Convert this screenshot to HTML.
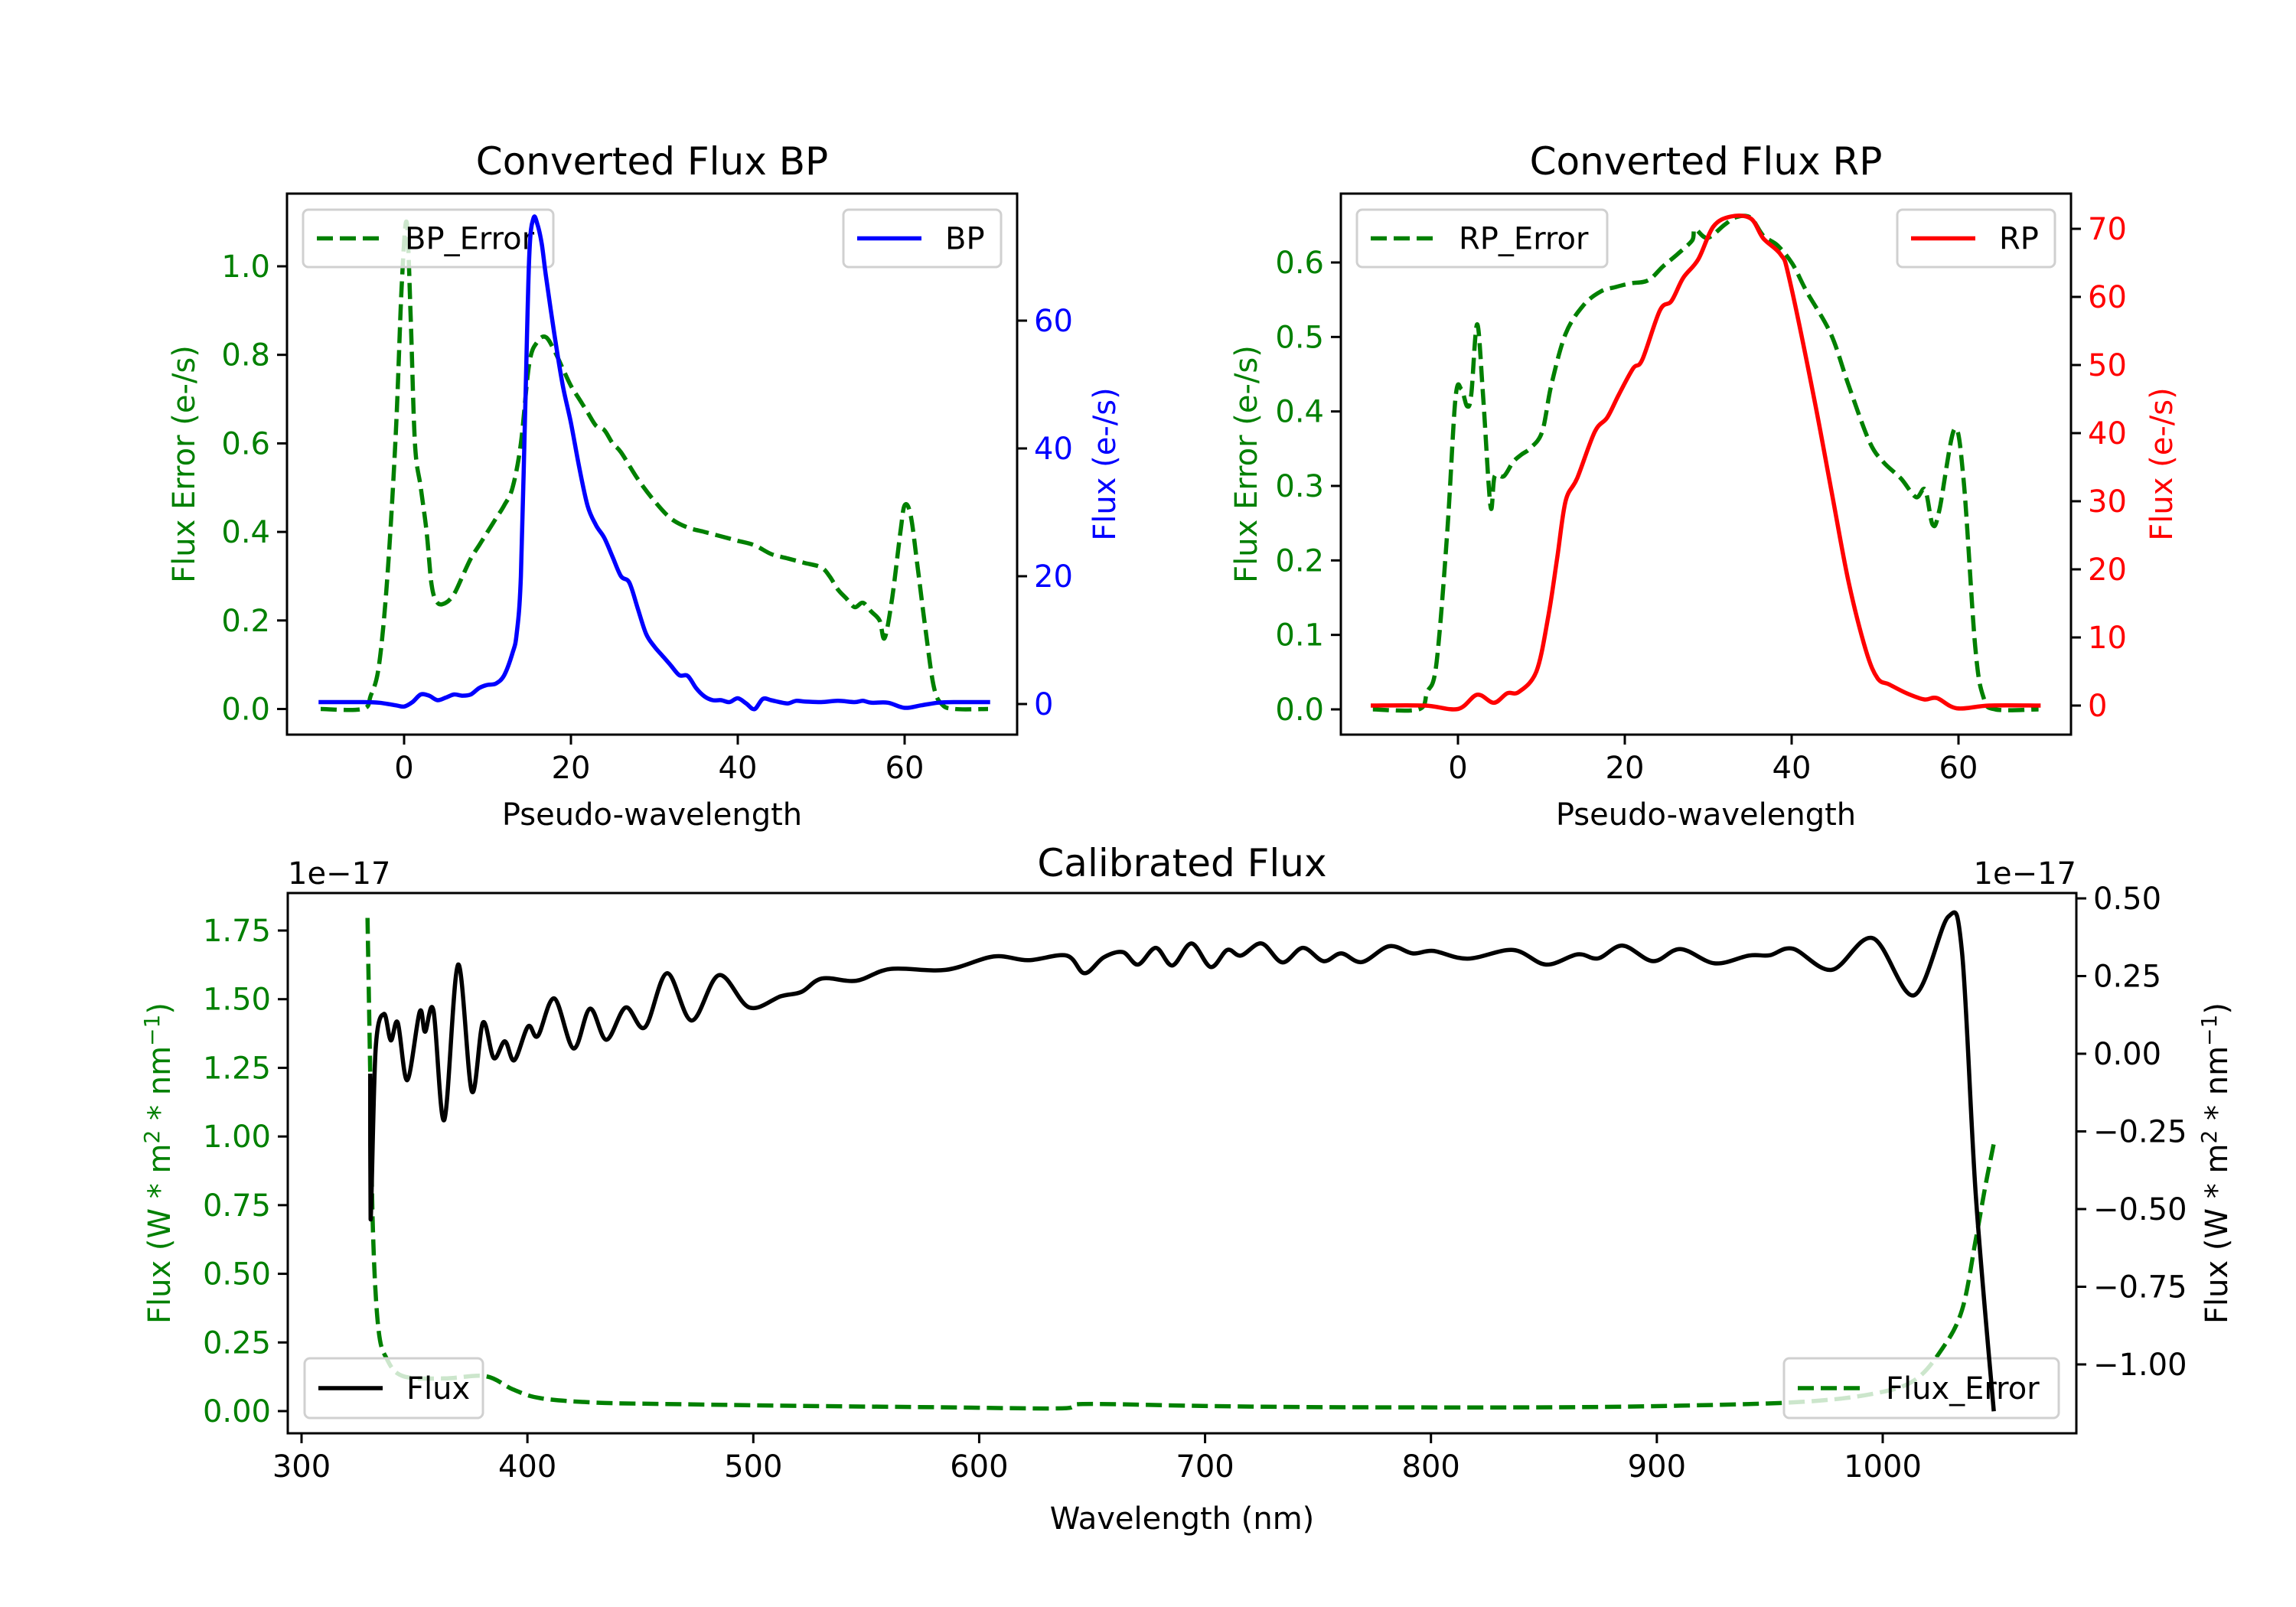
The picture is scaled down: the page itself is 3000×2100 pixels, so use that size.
<!DOCTYPE html>
<html><head><meta charset="utf-8">
<style>
html,body{margin:0;padding:0;background:#fff;}
svg{display:block;font-family:"DejaVu Sans","Liberation Sans",sans-serif;}
</style></head>
<body>
<svg id="fig" width="3000" height="2100" viewBox="0 0 3000 2100" xmlns="http://www.w3.org/2000/svg">
<rect width="3000" height="2100" fill="#fff"/>
</svg>
<script>
// ---- BP panel data ----
const bpX = [-10,-5,-3,-1,0,1,2,3,4,5,6,7,8,9,10,11,12,13,13.5,14,14.5,15,15.5,16,16.5,17,18,19,20,21,22,23,24,25,26,27,28,29,30,31,32,33,34,35,36,37,38,39,40,41,42,43,44,45,46,47,48,50,52,54,55,56,58,60,62,64,66,70];
const bpFlux = [0.3,0.3,0.2,-0.2,-0.4,0.3,1.5,1.3,0.6,1.0,1.5,1.3,1.5,2.5,3.0,3.2,4.5,8,11,20,45,70,76,75,72,67,58,50,44,37,31,28,26,23,20,19,15,11,9,7.5,6,4.5,4.4,2.5,1.2,0.6,0.6,0.3,0.9,0.1,-0.8,0.8,0.6,0.3,0.1,0.5,0.4,0.3,0.5,0.3,0.5,0.2,0.2,-0.6,-0.2,0.2,0.3,0.3];
const bpErrX = [-10,-5,-4,-3,-2,-1,-0.3,0.3,0.8,1.3,2,2.7,3.3,4,5,6,7,8,9,10,11,12,13,14,15,16,17,18,19,20,21,22,23,24,25,26,28,30,32,34,36,38,40,42,44,46,48,50,51,52,53,54,55,56,57,57.6,58.5,59.5,60,60.7,61.5,62.5,63.5,64.5,66,70];
const bpErr = [0,0,0.03,0.1,0.3,0.62,0.95,1.1,0.88,0.6,0.5,0.4,0.28,0.24,0.24,0.26,0.3,0.34,0.37,0.4,0.43,0.46,0.5,0.6,0.78,0.83,0.84,0.81,0.77,0.73,0.7,0.67,0.64,0.63,0.6,0.58,0.52,0.47,0.43,0.41,0.4,0.39,0.38,0.37,0.35,0.34,0.33,0.32,0.3,0.27,0.25,0.23,0.24,0.22,0.2,0.16,0.25,0.4,0.46,0.44,0.33,0.18,0.05,0.01,0,0];
// ---- RP panel data ----
const rpX = [-10.2,-4,0,2.3,4.3,5.9,7.3,9.4,10.8,11.9,12.9,14.3,16.4,17.9,19.3,21,22.1,24.2,25.6,27,28.8,30.6,32.7,35.1,36.6,38.7,39.7,42.6,44.7,46.8,48.9,50.3,51.7,53.8,55.9,57.4,59.8,63.7,69.6];
const rpFlux = [0,0,-0.5,1.6,0.4,1.8,2,5,12.9,21.7,30,33.4,40.2,42.3,45.7,49.5,50.8,58,59.4,62.8,65.5,70.3,71.8,71.5,68.6,66.2,62.8,45.7,32,18.3,8.1,4,3.1,1.8,0.9,1.1,-0.4,0,0];
const rpErrX = [-10.2,-4.7,-3.7,-2.6,-1.3,-0.3,0.4,1.1,1.6,2.3,3.0,3.9,4.4,5.5,6.6,7.6,8.7,10.1,11.2,12.9,15,17.1,18.9,20.7,22.8,24.6,26.3,28.1,28.4,29.9,32,33.4,35.1,36.6,38.3,40.1,41.8,44.7,46.8,49.3,51,53.1,54.9,56,56.9,57.7,59.5,60.6,62,63,64.4,69.6];
const rpErr = [0,0,0.023,0.06,0.235,0.417,0.43,0.407,0.423,0.517,0.423,0.273,0.313,0.313,0.332,0.342,0.351,0.373,0.436,0.504,0.542,0.561,0.567,0.572,0.576,0.595,0.611,0.63,0.645,0.633,0.651,0.661,0.66,0.636,0.623,0.598,0.561,0.504,0.436,0.36,0.332,0.31,0.285,0.295,0.248,0.267,0.376,0.31,0.085,0.016,0,0];
// ---- Calibrated panel data (units 1e-17) ----
const calX = [330.4,330.6,332.8,336.5,339.5,342.6,346.8,352.3,354.7,358.4,363.2,369.3,375.4,380.3,385.1,390,394.2,400.3,404.6,411.9,420.4,427.7,435,443.5,452,461.8,472.7,484.8,498.2,512.2,521.3,530.4,545.6,560.8,585.2,606.4,621.6,638.7,646.6,655.1,663.6,670.3,678.2,685.5,694,702.5,709.8,715.9,725,734.2,743.3,752.4,760.3,769.4,781.5,791.9,801,816.2,836.3,850.9,864.9,874,884.9,898.3,910.4,925.6,940.8,950,960.3,977.4,995.6,1013.8,1029,1035.1,1041.2,1049.1];
const calFlux = [-0.071,-0.533,0.014,0.128,0.043,0.1,-0.085,0.135,0.071,0.139,-0.213,0.287,-0.121,0.1,-0.014,0.04,-0.021,0.088,0.057,0.178,0.017,0.145,0.045,0.149,0.085,0.259,0.107,0.253,0.149,0.185,0.199,0.242,0.235,0.273,0.27,0.313,0.301,0.316,0.259,0.31,0.327,0.287,0.341,0.284,0.355,0.279,0.334,0.316,0.355,0.294,0.341,0.298,0.323,0.295,0.346,0.323,0.331,0.306,0.334,0.287,0.32,0.307,0.348,0.298,0.337,0.291,0.316,0.317,0.338,0.27,0.372,0.188,0.441,0.327,-0.455,-1.144];
const calErrX = [329.2,330.4,331.6,334,337.7,345,363.2,381.5,393.6,405.8,430.1,460.5,521.3,582.1,636.8,645.9,703.7,764.5,855.7,916.5,965.1,995.6,1013.8,1026,1035.1,1041.2,1045.4,1049.1];
const calErr = [1.796,1.236,0.658,0.304,0.191,0.127,0.119,0.127,0.079,0.047,0.031,0.026,0.019,0.014,0.01,0.026,0.018,0.014,0.014,0.021,0.034,0.063,0.111,0.223,0.368,0.625,0.818,0.971];
// ---- tick labels ----
const bpXTicks = [0,20,40,60];
const bpLTicks = [0,0.2,0.4,0.6,0.8,1.0];
const bpRTicks = [0,20,40,60];
const rpLTicks = [0,0.1,0.2,0.3,0.4,0.5,0.6];
const rpRTicks = [0,10,20,30,40,50,60,70];
const calXTicks = [300,400,500,600,700,800,900,1000];
const calLTicks = [0,0.25,0.5,0.75,1.0,1.25,1.5,1.75];
const calRTicks = [0.5,0.25,0,-0.25,-0.5,-0.75,-1.0];

const NS='http://www.w3.org/2000/svg';
const svg=document.getElementById('fig');
function mk(tag,attrs,parent){const e=document.createElementNS(NS,tag);for(const k in attrs)e.setAttribute(k,attrs[k]);(parent||svg).appendChild(e);return e;}
function txt(s,x,y,size,fill,anchor,parent,rot){const t=mk('text',{x:x,y:y,'font-size':size,fill:fill,'text-anchor':anchor||'middle'},parent);if(rot)t.setAttribute('transform','rotate('+rot+' '+x+' '+y+')');t.textContent=s;return t;}
const G='#008000';
const FS=40, TFS=50, TL=13, LW=5.5;
function lin(d0,p0,d1,p1){return v=>p0+(v-d0)*(p1-p0)/(d1-d0);}
function fmt(v,dec){let s=v.toFixed(dec);if(v<0)s='\u2212'+(-v).toFixed(dec);return s;}

function series(xs,ys,sx,sy,color,dashed,name,parent){
  const P=xs.map((x,i)=>[sx(x),sy(ys[i])]);
  let d='M'+P[0][0].toFixed(1)+' '+P[0][1].toFixed(1);
  for(let i=0;i<P.length-1;i++){
    const p0=P[Math.max(0,i-1)],p1=P[i],p2=P[i+1],p3=P[Math.min(P.length-1,i+2)];
    let c1x=p1[0]+(p2[0]-p0[0])/6,c1y=p1[1]+(p2[1]-p0[1])/6;
    let c2x=p2[0]-(p3[0]-p1[0])/6,c2y=p2[1]-(p3[1]-p1[1])/6;
    c1x=Math.min(Math.max(c1x,p1[0]),p2[0]);c2x=Math.min(Math.max(c2x,p1[0]),p2[0]);
    d+='C'+c1x.toFixed(1)+' '+c1y.toFixed(1)+' '+c2x.toFixed(1)+' '+c2y.toFixed(1)+' '+p2[0].toFixed(1)+' '+p2[1].toFixed(1);
  }
  const p=mk('path',{d:d,fill:'none',stroke:color,'stroke-width':LW,'stroke-linejoin':'round','stroke-linecap':dashed?'butt':'square'},parent);
  if(dashed)p.setAttribute('stroke-dasharray','21 9');
  
  
  return p;
}
function legend(x0,y0,x1,y1,label,color,dashed,name,parent){
  const g=mk('g',{},parent);
  
  
  mk('rect',{x:x0,y:y0,width:x1-x0,height:y1-y0,rx:7,fill:'rgba(255,255,255,0.8)',stroke:'#d0d0d0','stroke-width':3},g);
  const ym=(y0+y1)/2;
  const l=mk('line',{x1:x0+18,y1:ym,x2:x0+102,y2:ym,stroke:color,'stroke-width':LW},g);
  if(dashed)l.setAttribute('stroke-dasharray','21 9');
  txt(label,x0+133,ym+14,FS,'#000','start',g);
  return g;
}
function frame(L,T,R,B,name){
  const r=mk('rect',{x:L,y:T,width:R-L,height:B-T,fill:'none',stroke:'#000','stroke-width':3});
  
  
}
function xticks(vals,sx,B,labFn,name){
  const g=mk('g',{});
  
  
  vals.forEach(v=>{const x=sx(v);mk('line',{x1:x,y1:B,x2:x,y2:B+TL,stroke:'#000','stroke-width':3},g);txt(labFn(v),x,B+TL+44,FS,'#000','middle',g);});
}
function yticks(vals,sy,X,side,color,labFn,name){
  const g=mk('g',{});
  
  
  vals.forEach(v=>{const y=sy(v);const x2=side<0?X-TL:X+TL;mk('line',{x1:X,y1:y,x2:x2,y2:y,stroke:'#000','stroke-width':3},g);
    txt(labFn(v),side<0?X-TL-9:X+TL+9,y+14,FS,color,side<0?'end':'start',g);});
}

// ===== BP panel =====
(function(){
  const L=375,T=253,R=1329,B=960;
  const sx=lin(0,528,60,1182), sl=lin(0,926.5,1,348), sr=lin(0,920,60,419);
  const clip=mk('clipPath',{id:'cbp'});mk('rect',{x:L,y:T,width:R-L,height:B-T},clip);
  const g1=mk('g',{'clip-path':'url(#cbp)'});
  series(bpErrX,bpErr,sx,sl,G,true,'bp-error-line',g1);
  legend(396,274,723,349,'BP_Error',G,true,'bp-error-legend',g1);
  series(bpX,bpFlux,sx,sr,'#0000ff',false,'bp-flux-line',g1);
  legend(1102,274,1308,349,'BP','#0000ff',false,'bp-legend',g1);
  frame(L,T,R,B,'bp-axes-frame');
  xticks(bpXTicks,sx,B,v=>String(v),'bp-x-ticks');
  yticks(bpLTicks,sl,L,-1,G,v=>v.toFixed(1),'bp-left-y-ticks');
  yticks(bpRTicks,sr,R,1,'#0000ff',v=>String(v),'bp-right-y-ticks');
  let t=txt('Converted Flux BP',(L+R)/2,228,TFS,'#000');
  t=txt('Pseudo-wavelength',(L+R)/2,1078,FS,'#000');
  t=txt('Flux Error (e-/s)',254,(T+B)/2,FS,G,'middle',null,-90);
  t=txt('Flux (e-/s)',1457,(T+B)/2,FS,'#0000ff','middle',null,-90);
})();

// ===== RP panel =====
(function(){
  const L=1752,T=253,R=2706,B=960;
  const sx=lin(0,1905,60,2559), sl=lin(0,927,0.6,343), sr=lin(0,922,70,299);
  const clip=mk('clipPath',{id:'crp'});mk('rect',{x:L,y:T,width:R-L,height:B-T},clip);
  const g1=mk('g',{'clip-path':'url(#crp)'});
  series(rpErrX,rpErr,sx,sl,G,true,'rp-error-line',g1);
  legend(1773,274,2100,349,'RP_Error',G,true,'rp-error-legend',g1);
  series(rpX,rpFlux,sx,sr,'#ff0000',false,'rp-flux-line',g1);
  legend(2479,274,2685,349,'RP','#ff0000',false,'rp-legend',g1);
  frame(L,T,R,B,'rp-axes-frame');
  xticks(bpXTicks,sx,B,v=>String(v),'rp-x-ticks');
  yticks(rpLTicks,sl,L,-1,G,v=>v.toFixed(1),'rp-left-y-ticks');
  yticks(rpRTicks,sr,R,1,'#ff0000',v=>String(v),'rp-right-y-ticks');
  let t=txt('Converted Flux RP',(L+R)/2,228,TFS,'#000');
  t=txt('Pseudo-wavelength',(L+R)/2,1078,FS,'#000');
  t=txt('Flux Error (e-/s)',1642,(T+B)/2,FS,G,'middle',null,-90);
  t=txt('Flux (e-/s)',2838,(T+B)/2,FS,'#ff0000','middle',null,-90);
})();

// ===== Calibrated panel =====
(function(){
  const L=376,T=1167,R=2713,B=1873;
  const sx=lin(300,394,1000,2460), sl=lin(0,1844,1.75,1216), sr=lin(0,1377,0.5,1174);
  const clip=mk('clipPath',{id:'ccal'});mk('rect',{x:L,y:T,width:R-L,height:B-T},clip);
  const g1=mk('g',{'clip-path':'url(#ccal)'});
  series(calErrX,calErr,sx,sl,G,true,'flux-error-line',g1);
  legend(398,1775,631,1853,'Flux','#000',false,'flux-legend',g1);
  legend(2331,1775,2690,1853,'Flux_Error',G,true,'flux-error-legend',g1);
  series(calX,calFlux,sx,sr,'#000',false,'flux-line',g1);
  frame(L,T,R,B,'calibrated-axes-frame');
  xticks(calXTicks,sx,B,v=>String(v),'calibrated-x-ticks');
  yticks(calLTicks,sl,L,-1,G,v=>v.toFixed(2),'calibrated-left-y-ticks');
  yticks(calRTicks,sr,R,1,'#000',v=>fmt(v,2),'calibrated-right-y-ticks');
  let t=txt('Calibrated Flux',(L+R)/2,1145,TFS,'#000');
  t=txt('1e\u221217',L,1155,FS,'#000','start');
  t=txt('1e\u221217',R,1155,FS,'#000','end');
  t=txt('Wavelength (nm)',(L+R)/2,1998,FS,'#000');
  function ylab(x,color,name){
    const e=mk('text',{x:x,y:(T+B)/2,'font-size':FS,fill:color,'text-anchor':'middle',transform:'rotate(-90 '+x+' '+(T+B)/2+')'});
    
    
    const parts=[['Flux (W * m',0,'0'],['2',1,'-14'],[' * nm',0,'14'],['\u22121',1,'-14'],[')',0,'14']];
    parts.forEach(p=>{const s=mk('tspan',{dy:p[2]},e);if(p[1])s.setAttribute('font-size','28');s.textContent=p[0];});
  }
  ylab(222,G,'calibrated-left-y-axis-title');
  ylab(2910,'#000','calibrated-right-y-axis-title');
})();
</script>
</body></html>
